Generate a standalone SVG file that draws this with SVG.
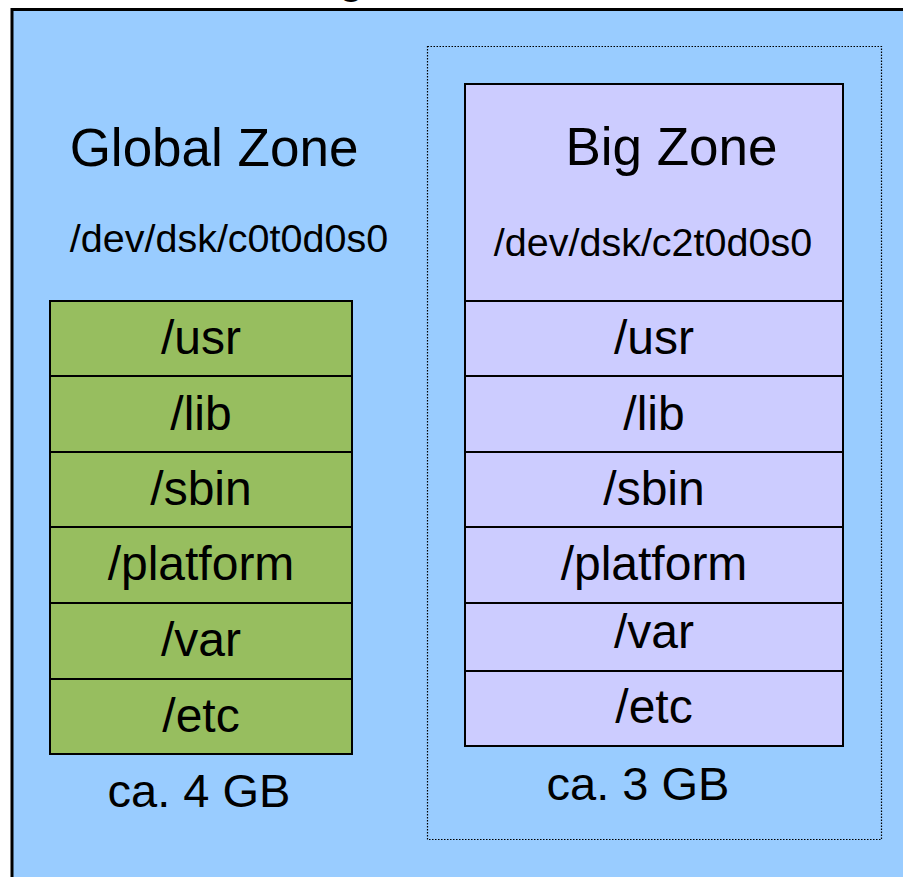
<svg xmlns="http://www.w3.org/2000/svg" width="903" height="877" viewBox="0 0 903 877">
<style>
text{font-family:"Liberation Sans",Arial,sans-serif;fill:#000}
.row{stroke:#000;stroke-width:2}
.g{fill:#97BE5F}
.p{fill:#CCCCFF}
.lbl{font-size:48px;text-anchor:middle}
.title{font-size:53px;text-anchor:middle}
.dev{font-size:39.5px;text-anchor:middle}
.size{font-size:47px;text-anchor:middle}
</style>
<rect width="903" height="877" fill="#FFFFFF"/>
<text x="338" y="-8" style="font-size:48px">g</text>
<rect x="12" y="9.5" width="910" height="890" fill="#99CCFF" stroke="#000" stroke-width="3"/>
<rect x="427.5" y="46.5" width="454" height="793" fill="none" stroke="#000" stroke-width="1.2" stroke-dasharray="1.5,1.5"/>
<g id="global-zone">
<text class="title" x="214" y="166">Global Zone</text>
<text class="dev" x="229" y="252">/dev/dsk/c0t0d0s0</text>
</g>
<g id="g-usr"><rect class="row g" x="50" y="301" width="302" height="75"/><text class="lbl" x="201" y="354">/usr</text></g>
<g id="g-lib"><rect class="row g" x="50" y="376" width="302" height="76"/><text class="lbl" x="201" y="430">/lib</text></g>
<g id="g-sbin"><rect class="row g" x="50" y="452" width="302" height="75"/><text class="lbl" x="201" y="505">/sbin</text></g>
<g id="g-platform"><rect class="row g" x="50" y="527" width="302" height="76"/><text class="lbl" x="201" y="580">/platform</text></g>
<g id="g-var"><rect class="row g" x="50" y="603" width="302" height="76"/><text class="lbl" x="201" y="656">/var</text></g>
<g id="g-etc"><rect class="row g" x="50" y="679" width="302" height="75"/><text class="lbl" x="201" y="732">/etc</text></g>
<text class="size" x="199" y="807">ca. 4 GB</text>
<g id="big-zone">
<rect class="row p" x="465" y="84" width="378" height="217"/>
<text class="title" x="671.5" y="165">Big Zone</text>
<text class="dev" x="653" y="256">/dev/dsk/c2t0d0s0</text>
</g>
<g id="b-usr"><rect class="row p" x="465" y="301" width="378" height="75"/><text class="lbl" x="654" y="354">/usr</text></g>
<g id="b-lib"><rect class="row p" x="465" y="376" width="378" height="76"/><text class="lbl" x="654" y="430">/lib</text></g>
<g id="b-sbin"><rect class="row p" x="465" y="452" width="378" height="75"/><text class="lbl" x="654" y="505">/sbin</text></g>
<g id="b-platform"><rect class="row p" x="465" y="527" width="378" height="76"/><text class="lbl" x="654" y="580">/platform</text></g>
<g id="b-var"><rect class="row p" x="465" y="603" width="378" height="68"/><text class="lbl" x="654" y="648">/var</text></g>
<g id="b-etc"><rect class="row p" x="465" y="671" width="378" height="75"/><text class="lbl" x="654" y="723">/etc</text></g>
<text class="size" x="638" y="800">ca. 3 GB</text>
<g id="connectors"/>
</svg>
